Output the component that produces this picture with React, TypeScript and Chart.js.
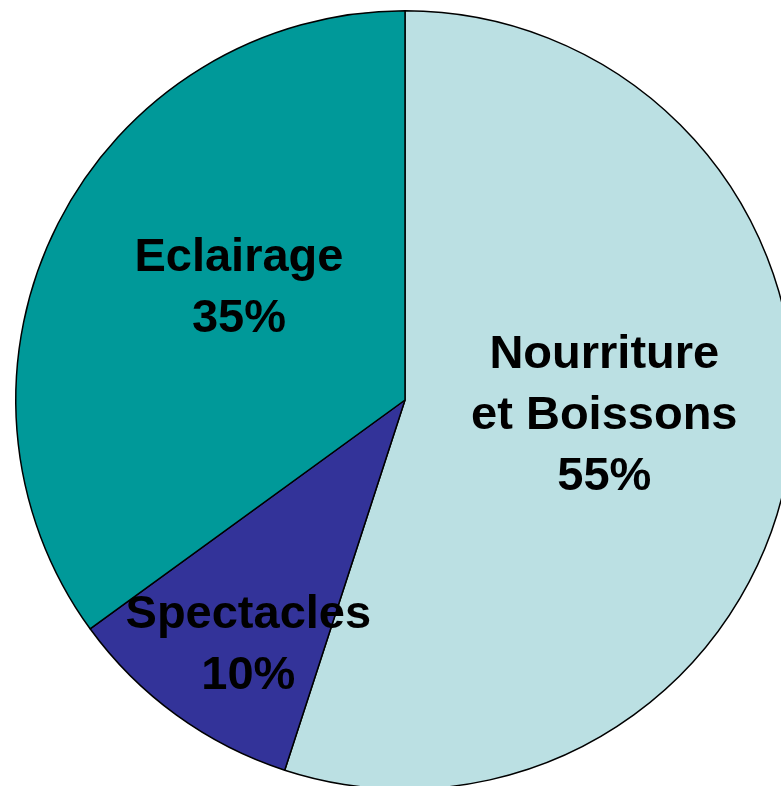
import React, { useEffect, useRef } from "react";
import { Chart, registerables } from "chart.js";

Chart.register(...registerables);

const categories = ["Nourriture\net Boissons", "Spectacles", "Eclairage"];
const shares = [55, 10, 35];
const sliceColors = ["#BBE0E3", "#333399", "#009999"];

// label placement relative to each arc: direction (deg, canvas coords) and fraction of radius
const labelDirections = [3.5, 123, -145.3];
const labelRadiusFractions = [0.513, 0.739, 0.519];

const labelPlugin = {
  id: "sliceLabels",
  afterDatasetsDraw(chart: any) {
    const ctx = chart.ctx;
    const meta = chart.getDatasetMeta(0);
    const fontSize = 47;
    const lineHeight = 61;
    ctx.save();
    ctx.fillStyle = "#000000";
    ctx.font = `bold ${fontSize}px "Liberation Sans", Arial, sans-serif`;
    ctx.textAlign = "center";
    ctx.textBaseline = "alphabetic";
    meta.data.forEach((arc: any, i: number) => {
      const { x, y, outerRadius } = arc.getProps(["x", "y", "outerRadius"], true);
      const a = (labelDirections[i] * Math.PI) / 180;
      const r = outerRadius * labelRadiusFractions[i];
      const ax = x + Math.cos(a) * r;
      const ay = y + Math.sin(a) * r;
      const lines = [...categories[i].split("\n"), `${shares[i]}%`];
      const n = lines.length;
      const capH = fontSize * 0.716;
      lines.forEach((line, j) => {
        const by = ay + (j - (n - 1) / 2) * lineHeight + capH / 2;
        ctx.fillText(line, ax, by);
      });
    });
    ctx.restore();
  },
};

export default function App() {
  const ref = useRef<HTMLCanvasElement | null>(null);
  useEffect(() => {
    if (!ref.current) return;
    const chart = new Chart(ref.current, {
      type: "pie",
      data: {
        labels: categories,
        datasets: [
          {
            data: shares,
            backgroundColor: sliceColors,
            borderColor: "#000000",
            borderWidth: 1.5,
          },
        ],
      },
      options: {
        responsive: false,
        animation: false,
        layout: { padding: { left: 15, right: 15, top: 10, bottom: 10 } },
        plugins: {
          legend: { display: false },
          tooltip: { enabled: false },
        },
      },
      plugins: [labelPlugin],
    });
    return () => chart.destroy();
  }, []);
  return (
    <div
      style={{
        position: "fixed",
        left: 0,
        top: 0,
        width: 781,
        height: 786,
        overflow: "hidden",
        background: "#ffffff",
      }}
    >
      <canvas ref={ref} width={810} height={800} style={{ display: "block" }} />
    </div>
  );
}
